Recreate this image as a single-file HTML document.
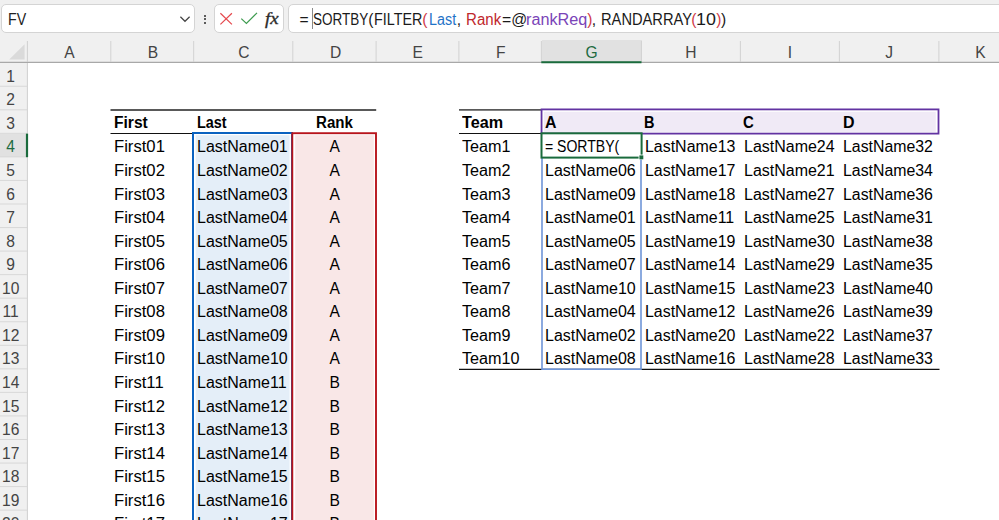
<!DOCTYPE html>
<html><head><meta charset="utf-8"><title>Excel</title>
<style>
*{box-sizing:border-box;margin:0;padding:0}
html,body{width:999px;height:520px;overflow:hidden;background:#fff}
body{position:relative;font-family:"Liberation Sans",sans-serif;color:#000}
.abs{position:absolute}
#top{left:0;top:0;width:999px;height:63px;background:#f0f0f0}
.box{position:absolute;top:4px;height:29px;background:#fff;border:1px solid #d4d4d4;border-radius:5px}
.ui{position:absolute;font-size:16.5px;line-height:20px;white-space:nowrap;color:#222}
.ftxt{position:absolute;top:9.5px;font-size:15.6px;line-height:20px;white-space:pre;color:#1a1a1a;transform-origin:0 50%}
.ch{position:absolute;top:42.6px;height:20px;font-size:15.6px;line-height:20px;text-align:center;color:#444}
.rh{position:absolute;left:0;width:27px;font-size:15.6px;color:#444}
.rh span{position:absolute;left:-2.8px;width:27px;bottom:-0.3px;line-height:20px;text-align:center}
.c{position:absolute;font-size:15.6px;line-height:20px;white-space:pre;height:23.55px}
.c span{position:absolute;left:0;bottom:-0.3px;transform-origin:0 50%}
.c.ctr span{left:0;right:0;text-align:center;transform-origin:50% 50%}
.b span{font-weight:bold;font-size:15.8px;bottom:0.8px}
#ov{position:absolute;left:0;top:0}
</style></head>
<body>
<div id="top" class="abs"></div>
<div class="box" style="left:1px;width:194px"></div>
<div class="ui" style="left:8.0px;top:9.3px;transform:scaleX(0.86);transform-origin:0 50%">FV</div>
<svg class="abs" style="left:179px;top:15px" width="12" height="8" viewBox="0 0 12 8"><path d="M1.4 1.8 L6 6.3 L10.6 1.8" fill="none" stroke="#444" stroke-width="1.2"/></svg>
<div class="abs" style="left:203.7px;top:14.5px;width:2px;height:2px;background:#2a2a2a;border-radius:50%"></div>
<div class="abs" style="left:203.7px;top:18.3px;width:2px;height:2px;background:#2a2a2a;border-radius:50%"></div>
<div class="abs" style="left:203.7px;top:22.1px;width:2px;height:2px;background:#2a2a2a;border-radius:50%"></div>
<div class="box" style="left:214px;width:70px"></div>
<svg class="abs" style="left:219px;top:12px" width="14" height="14" viewBox="0 0 14 14"><path d="M1.4 1.2 L12.9 12.4 M12.9 1.2 L1.4 12.4" fill="none" stroke="#e5484d" stroke-width="1.2"/></svg>
<svg class="abs" style="left:240px;top:11px" width="18" height="14" viewBox="0 0 18 14"><path d="M1.3 7.6 L6.4 12.4 L17 1.8" fill="none" stroke="#3d9b4f" stroke-width="1.2"/></svg>
<div class="abs" style="left:264.5px;top:6.5px;font-family:'Liberation Serif',serif;font-style:italic;font-size:17.5px;line-height:22px;color:#2b2b2b;-webkit-text-stroke:0.35px #2b2b2b;letter-spacing:0px;transform:scaleX(1.08);transform-origin:0 50%">fx</div>
<div class="box" style="left:288px;width:720px"></div>
<div class="ftxt" style="left:299.61px;">=</div>
<div class="ftxt" style="left:312.52px;transform:scaleX(0.866);">SORTBY</div>
<div class="ftxt" style="left:368.37px;">(</div>
<div class="ftxt" style="left:374.14px;transform:scaleX(0.920);">FILTER</div>
<div class="ftxt" style="left:422.27px;color:#d03a48;">(</div>
<div class="ftxt" style="left:428.94px;color:#1f73c7;transform:scaleX(0.920);">Last</div>
<div class="ftxt" style="left:456.83px;">,</div>
<div class="ftxt" style="left:465.69px;color:#c0282d;transform:scaleX(0.966);">Rank</div>
<div class="ftxt" style="left:501.60px;transform:scaleX(1.010);">=@</div>
<div class="ftxt" style="left:525.96px;color:#7a44b8;transform:scaleX(1.040);">rankReq</div>
<div class="ftxt" style="left:587.27px;color:#d03a48;">)</div>
<div class="ftxt" style="left:591.83px;">,</div>
<div class="ftxt" style="left:600.72px;transform:scaleX(0.941);">RANDARRAY</div>
<div class="ftxt" style="left:691.27px;color:#d03a48;">(</div>
<div class="ftxt" style="left:696.30px;transform:scaleX(1.147);">10</div>
<div class="ftxt" style="left:716.37px;color:#d03a48;">)</div>
<div class="ftxt" style="left:721.12px;">)</div>
<div class="abs" style="left:312px;top:8px;width:1px;height:21px;background:#8a8a8a"></div>
<svg class="abs" style="left:8px;top:43px" width="18" height="18" viewBox="0 0 18 18"><path d="M16.6 1.3 L16.6 16.6 L1.2 16.6 Z" fill="#dadada"/></svg>
<div class="ch" style="left:28.3px;width:82.5px">A</div>
<div class="ch" style="left:111.7px;width:82.5px">B</div>
<div class="ch" style="left:194.4px;width:99px">C</div>
<div class="ch" style="left:293.8px;width:83.5px">D</div>
<div class="ch" style="left:375.9px;width:83.5px">E</div>
<div class="ch" style="left:459.4px;width:82.5px">F</div>
<div class="abs" style="left:541.5px;top:40px;width:100.0px;height:22px;background:#e1e1e1"></div>
<div class="ch" style="left:541.5px;width:100.0px;color:#1e6b3f">G</div>
<div class="ch" style="left:641.5px;width:99.0px">H</div>
<div class="ch" style="left:740.5px;width:99.0px">I</div>
<div class="ch" style="left:839.5px;width:99.5px">J</div>
<div class="ch" style="left:939px;width:83px">K</div>
<div class="abs" style="left:0;top:63px;width:27px;height:457px;background:#f0f0f0"></div>
<div class="rh" style="top:63.0px;height:23.55px"><span>1</span></div>
<div class="rh" style="top:86.55px;height:23.55px"><span>2</span></div>
<div class="rh" style="top:110.1px;height:23.55px"><span>3</span></div>
<div class="rh" style="top:133.65px;height:23.55px;background:#e1e1e1;color:#1e6b3f"><span>4</span></div>
<div class="rh" style="top:157.2px;height:23.55px"><span>5</span></div>
<div class="rh" style="top:180.75px;height:23.55px"><span>6</span></div>
<div class="rh" style="top:204.3px;height:23.55px"><span>7</span></div>
<div class="rh" style="top:227.85px;height:23.55px"><span>8</span></div>
<div class="rh" style="top:251.4px;height:23.55px"><span>9</span></div>
<div class="rh" style="top:274.95000000000005px;height:23.55px"><span>10</span></div>
<div class="rh" style="top:298.5px;height:23.55px"><span>11</span></div>
<div class="rh" style="top:322.05px;height:23.55px"><span>12</span></div>
<div class="rh" style="top:345.6px;height:23.55px"><span>13</span></div>
<div class="rh" style="top:369.15000000000003px;height:23.55px"><span>14</span></div>
<div class="rh" style="top:392.7px;height:23.55px"><span>15</span></div>
<div class="rh" style="top:416.25px;height:23.55px"><span>16</span></div>
<div class="rh" style="top:439.8px;height:23.55px"><span>17</span></div>
<div class="rh" style="top:463.35px;height:23.55px"><span>18</span></div>
<div class="rh" style="top:486.90000000000003px;height:23.55px"><span>19</span></div>
<div class="rh" style="top:510.45px;height:23.55px"><span>20</span></div>
<svg id="ov" width="999" height="520" viewBox="0 0 999 520"><line x1="0" y1="62.35" x2="999" y2="62.35" stroke="#a8a8a8" stroke-width="1.2"/><line x1="27.4" y1="41" x2="27.4" y2="62" stroke="#cfcfcf" stroke-width="1"/><line x1="110.80000000000001" y1="41" x2="110.80000000000001" y2="62" stroke="#d2d2d2" stroke-width="1"/><line x1="193.70000000000002" y1="41" x2="193.70000000000002" y2="62" stroke="#d2d2d2" stroke-width="1"/><line x1="292.79999999999995" y1="41" x2="292.79999999999995" y2="62" stroke="#d2d2d2" stroke-width="1"/><line x1="376.09999999999997" y1="41" x2="376.09999999999997" y2="62" stroke="#d2d2d2" stroke-width="1"/><line x1="458.9" y1="41" x2="458.9" y2="62" stroke="#d2d2d2" stroke-width="1"/><line x1="541.4" y1="41" x2="541.4" y2="62" stroke="#d2d2d2" stroke-width="1"/><line x1="641.4" y1="41" x2="641.4" y2="62" stroke="#d2d2d2" stroke-width="1"/><line x1="740.4" y1="41" x2="740.4" y2="62" stroke="#d2d2d2" stroke-width="1"/><line x1="839.4" y1="41" x2="839.4" y2="62" stroke="#d2d2d2" stroke-width="1"/><line x1="938.9" y1="41" x2="938.9" y2="62" stroke="#d2d2d2" stroke-width="1"/><line x1="541.3" y1="62.15" x2="641.5" y2="62.15" stroke="#1a6b3c" stroke-width="2.0"/><line x1="27.4" y1="63" x2="27.4" y2="520" stroke="#cfcfcf" stroke-width="1"/><line x1="0" y1="86.25" x2="27" y2="86.25" stroke="#d8d8d8" stroke-width="1"/><line x1="0" y1="109.8" x2="27" y2="109.8" stroke="#d8d8d8" stroke-width="1"/><line x1="0" y1="133.35" x2="27" y2="133.35" stroke="#d8d8d8" stroke-width="1"/><line x1="0" y1="156.89999999999998" x2="27" y2="156.89999999999998" stroke="#d8d8d8" stroke-width="1"/><line x1="0" y1="180.45" x2="27" y2="180.45" stroke="#d8d8d8" stroke-width="1"/><line x1="0" y1="204.0" x2="27" y2="204.0" stroke="#d8d8d8" stroke-width="1"/><line x1="0" y1="227.54999999999998" x2="27" y2="227.54999999999998" stroke="#d8d8d8" stroke-width="1"/><line x1="0" y1="251.1" x2="27" y2="251.1" stroke="#d8d8d8" stroke-width="1"/><line x1="0" y1="274.65000000000003" x2="27" y2="274.65000000000003" stroke="#d8d8d8" stroke-width="1"/><line x1="0" y1="298.2" x2="27" y2="298.2" stroke="#d8d8d8" stroke-width="1"/><line x1="0" y1="321.75" x2="27" y2="321.75" stroke="#d8d8d8" stroke-width="1"/><line x1="0" y1="345.3" x2="27" y2="345.3" stroke="#d8d8d8" stroke-width="1"/><line x1="0" y1="368.85" x2="27" y2="368.85" stroke="#d8d8d8" stroke-width="1"/><line x1="0" y1="392.4" x2="27" y2="392.4" stroke="#d8d8d8" stroke-width="1"/><line x1="0" y1="415.95" x2="27" y2="415.95" stroke="#d8d8d8" stroke-width="1"/><line x1="0" y1="439.5" x2="27" y2="439.5" stroke="#d8d8d8" stroke-width="1"/><line x1="0" y1="463.05" x2="27" y2="463.05" stroke="#d8d8d8" stroke-width="1"/><line x1="0" y1="486.6" x2="27" y2="486.6" stroke="#d8d8d8" stroke-width="1"/><line x1="0" y1="510.15" x2="27" y2="510.15" stroke="#d8d8d8" stroke-width="1"/><line x1="27" y1="133.65" x2="27" y2="157.2" stroke="#1a6b3c" stroke-width="2.2"/><rect x="195.6" y="135.2" width="94.00000000000003" height="400" fill="#e4eef8"/><rect x="295.2" y="135.2" width="78.60000000000002" height="400" fill="#f9e7e7"/><rect x="543.8" y="111.8" width="392.0" height="20.10000000000001" fill="#f0eaf6"/><line x1="110.5" y1="110" x2="376.2" y2="110" stroke="#595959" stroke-width="1.9"/><line x1="110.5" y1="133.5" x2="192" y2="133.5" stroke="#111" stroke-width="1.2"/><line x1="459" y1="109.9" x2="541" y2="109.9" stroke="#595959" stroke-width="1.9"/><line x1="459" y1="133.5" x2="541" y2="133.5" stroke="#111" stroke-width="1.2"/><line x1="459" y1="369.3" x2="939.5" y2="369.3" stroke="#111" stroke-width="1.3"/><rect x="193" y="133" width="99" height="400" fill="none" stroke="#0a62c0" stroke-width="2"/><rect x="292.3" y="133.2" width="83.69999999999999" height="400" fill="none" stroke="#b8141c" stroke-width="1.9"/><rect x="541.55" y="109.4" width="396.95000000000005" height="24.19999999999999" fill="none" stroke="#6233a2" stroke-width="1.8"/><rect x="542" y="150" width="99" height="219.2" fill="none" stroke="#6f95d8" stroke-width="1.6"/><rect x="541.5" y="133.3" width="100.10000000000002" height="24.299999999999983" fill="#fff" stroke="#1a6b3c" stroke-width="2"/><rect x="638.6" y="154.6" width="5" height="5" fill="#fff"/><rect x="639.4" y="155.4" width="3.9" height="3.9" fill="#1a6b3c"/></svg>
<div class="c b" style="left:113.91px;top:110.10px"><span style="transform:scaleX(0.987)">First</span></div>
<div class="c b" style="left:196.89px;top:110.10px"><span style="transform:scaleX(0.913)">Last</span></div>
<div class="c b" style="left:315.95px;top:110.10px"><span style="transform:scaleX(0.955)">Rank</span></div>
<div class="c" style="left:113.87px;top:133.65px"><span style="transform:scaleX(1.068)">First01</span></div>
<div class="c" style="left:196.72px;top:133.65px"><span style="transform:scaleX(1.026)">LastName01</span></div>
<div class="c ctr" style="left:314.7px;top:133.65px;width:40px"><span>A</span></div>
<div class="c" style="left:113.87px;top:157.20px"><span style="transform:scaleX(1.068)">First02</span></div>
<div class="c" style="left:196.72px;top:157.20px"><span style="transform:scaleX(1.026)">LastName02</span></div>
<div class="c ctr" style="left:314.7px;top:157.20px;width:40px"><span>A</span></div>
<div class="c" style="left:113.87px;top:180.75px"><span style="transform:scaleX(1.068)">First03</span></div>
<div class="c" style="left:196.72px;top:180.75px"><span style="transform:scaleX(1.026)">LastName03</span></div>
<div class="c ctr" style="left:314.7px;top:180.75px;width:40px"><span>A</span></div>
<div class="c" style="left:113.87px;top:204.30px"><span style="transform:scaleX(1.068)">First04</span></div>
<div class="c" style="left:196.72px;top:204.30px"><span style="transform:scaleX(1.026)">LastName04</span></div>
<div class="c ctr" style="left:314.7px;top:204.30px;width:40px"><span>A</span></div>
<div class="c" style="left:113.87px;top:227.85px"><span style="transform:scaleX(1.068)">First05</span></div>
<div class="c" style="left:196.72px;top:227.85px"><span style="transform:scaleX(1.026)">LastName05</span></div>
<div class="c ctr" style="left:314.7px;top:227.85px;width:40px"><span>A</span></div>
<div class="c" style="left:113.87px;top:251.40px"><span style="transform:scaleX(1.068)">First06</span></div>
<div class="c" style="left:196.72px;top:251.40px"><span style="transform:scaleX(1.026)">LastName06</span></div>
<div class="c ctr" style="left:314.7px;top:251.40px;width:40px"><span>A</span></div>
<div class="c" style="left:113.87px;top:274.95px"><span style="transform:scaleX(1.068)">First07</span></div>
<div class="c" style="left:196.72px;top:274.95px"><span style="transform:scaleX(1.026)">LastName07</span></div>
<div class="c ctr" style="left:314.7px;top:274.95px;width:40px"><span>A</span></div>
<div class="c" style="left:113.87px;top:298.50px"><span style="transform:scaleX(1.068)">First08</span></div>
<div class="c" style="left:196.72px;top:298.50px"><span style="transform:scaleX(1.026)">LastName08</span></div>
<div class="c ctr" style="left:314.7px;top:298.50px;width:40px"><span>A</span></div>
<div class="c" style="left:113.87px;top:322.05px"><span style="transform:scaleX(1.068)">First09</span></div>
<div class="c" style="left:196.72px;top:322.05px"><span style="transform:scaleX(1.026)">LastName09</span></div>
<div class="c ctr" style="left:314.7px;top:322.05px;width:40px"><span>A</span></div>
<div class="c" style="left:113.87px;top:345.60px"><span style="transform:scaleX(1.068)">First10</span></div>
<div class="c" style="left:196.72px;top:345.60px"><span style="transform:scaleX(1.026)">LastName10</span></div>
<div class="c ctr" style="left:314.7px;top:345.60px;width:40px"><span>A</span></div>
<div class="c" style="left:113.87px;top:369.15px"><span style="transform:scaleX(1.068)">First11</span></div>
<div class="c" style="left:196.72px;top:369.15px"><span style="transform:scaleX(1.026)">LastName11</span></div>
<div class="c ctr" style="left:314.7px;top:369.15px;width:40px"><span>B</span></div>
<div class="c" style="left:113.87px;top:392.70px"><span style="transform:scaleX(1.068)">First12</span></div>
<div class="c" style="left:196.72px;top:392.70px"><span style="transform:scaleX(1.026)">LastName12</span></div>
<div class="c ctr" style="left:314.7px;top:392.70px;width:40px"><span>B</span></div>
<div class="c" style="left:113.87px;top:416.25px"><span style="transform:scaleX(1.068)">First13</span></div>
<div class="c" style="left:196.72px;top:416.25px"><span style="transform:scaleX(1.026)">LastName13</span></div>
<div class="c ctr" style="left:314.7px;top:416.25px;width:40px"><span>B</span></div>
<div class="c" style="left:113.87px;top:439.80px"><span style="transform:scaleX(1.068)">First14</span></div>
<div class="c" style="left:196.72px;top:439.80px"><span style="transform:scaleX(1.026)">LastName14</span></div>
<div class="c ctr" style="left:314.7px;top:439.80px;width:40px"><span>B</span></div>
<div class="c" style="left:113.87px;top:463.35px"><span style="transform:scaleX(1.068)">First15</span></div>
<div class="c" style="left:196.72px;top:463.35px"><span style="transform:scaleX(1.026)">LastName15</span></div>
<div class="c ctr" style="left:314.7px;top:463.35px;width:40px"><span>B</span></div>
<div class="c" style="left:113.87px;top:486.90px"><span style="transform:scaleX(1.068)">First16</span></div>
<div class="c" style="left:196.72px;top:486.90px"><span style="transform:scaleX(1.026)">LastName16</span></div>
<div class="c ctr" style="left:314.7px;top:486.90px;width:40px"><span>B</span></div>
<div class="c" style="left:113.87px;top:510.45px"><span style="transform:scaleX(1.068)">First17</span></div>
<div class="c" style="left:196.72px;top:510.45px"><span style="transform:scaleX(1.026)">LastName17</span></div>
<div class="c ctr" style="left:314.7px;top:510.45px;width:40px"><span>B</span></div>
<div class="c b" style="left:462.18px;top:110.10px"><span style="transform:scaleX(1.024)">Team</span></div>
<div class="c b" style="left:544.92px;top:110.10px"><span style="transform:scaleX(1.007)">A</span></div>
<div class="c b" style="left:644.28px;top:110.10px"><span style="transform:scaleX(0.919)">B</span></div>
<div class="c b" style="left:743.24px;top:110.10px"><span style="transform:scaleX(0.947)">C</span></div>
<div class="c b" style="left:842.69px;top:110.10px"><span style="transform:scaleX(1.011)">D</span></div>
<div class="c" style="left:461.99px;top:133.65px"><span style="transform:scaleX(1.037)">Team1</span></div>
<div class="c" style="left:545.38px;top:133.65px"><span style="transform:scaleX(0.900)">= SORTBY(</span></div>
<div class="c" style="left:644.73px;top:133.65px"><span style="transform:scaleX(1.022)">LastName13</span></div>
<div class="c" style="left:743.62px;top:133.65px"><span style="transform:scaleX(1.025)">LastName24</span></div>
<div class="c" style="left:843.33px;top:133.65px"><span style="transform:scaleX(1.017)">LastName32</span></div>
<div class="c" style="left:461.99px;top:157.20px"><span style="transform:scaleX(1.037)">Team2</span></div>
<div class="c" style="left:545.12px;top:157.20px"><span style="transform:scaleX(1.026)">LastName06</span></div>
<div class="c" style="left:644.73px;top:157.20px"><span style="transform:scaleX(1.022)">LastName17</span></div>
<div class="c" style="left:743.62px;top:157.20px"><span style="transform:scaleX(1.025)">LastName21</span></div>
<div class="c" style="left:843.33px;top:157.20px"><span style="transform:scaleX(1.017)">LastName34</span></div>
<div class="c" style="left:461.99px;top:180.75px"><span style="transform:scaleX(1.037)">Team3</span></div>
<div class="c" style="left:545.12px;top:180.75px"><span style="transform:scaleX(1.026)">LastName09</span></div>
<div class="c" style="left:644.73px;top:180.75px"><span style="transform:scaleX(1.022)">LastName18</span></div>
<div class="c" style="left:743.62px;top:180.75px"><span style="transform:scaleX(1.025)">LastName27</span></div>
<div class="c" style="left:843.33px;top:180.75px"><span style="transform:scaleX(1.017)">LastName36</span></div>
<div class="c" style="left:461.99px;top:204.30px"><span style="transform:scaleX(1.037)">Team4</span></div>
<div class="c" style="left:545.12px;top:204.30px"><span style="transform:scaleX(1.026)">LastName01</span></div>
<div class="c" style="left:644.73px;top:204.30px"><span style="transform:scaleX(1.022)">LastName11</span></div>
<div class="c" style="left:743.62px;top:204.30px"><span style="transform:scaleX(1.025)">LastName25</span></div>
<div class="c" style="left:843.33px;top:204.30px"><span style="transform:scaleX(1.017)">LastName31</span></div>
<div class="c" style="left:461.99px;top:227.85px"><span style="transform:scaleX(1.037)">Team5</span></div>
<div class="c" style="left:545.12px;top:227.85px"><span style="transform:scaleX(1.026)">LastName05</span></div>
<div class="c" style="left:644.73px;top:227.85px"><span style="transform:scaleX(1.022)">LastName19</span></div>
<div class="c" style="left:743.62px;top:227.85px"><span style="transform:scaleX(1.025)">LastName30</span></div>
<div class="c" style="left:843.33px;top:227.85px"><span style="transform:scaleX(1.017)">LastName38</span></div>
<div class="c" style="left:461.99px;top:251.40px"><span style="transform:scaleX(1.037)">Team6</span></div>
<div class="c" style="left:545.12px;top:251.40px"><span style="transform:scaleX(1.026)">LastName07</span></div>
<div class="c" style="left:644.73px;top:251.40px"><span style="transform:scaleX(1.022)">LastName14</span></div>
<div class="c" style="left:743.62px;top:251.40px"><span style="transform:scaleX(1.025)">LastName29</span></div>
<div class="c" style="left:843.33px;top:251.40px"><span style="transform:scaleX(1.017)">LastName35</span></div>
<div class="c" style="left:461.99px;top:274.95px"><span style="transform:scaleX(1.037)">Team7</span></div>
<div class="c" style="left:545.12px;top:274.95px"><span style="transform:scaleX(1.026)">LastName10</span></div>
<div class="c" style="left:644.73px;top:274.95px"><span style="transform:scaleX(1.022)">LastName15</span></div>
<div class="c" style="left:743.62px;top:274.95px"><span style="transform:scaleX(1.025)">LastName23</span></div>
<div class="c" style="left:843.33px;top:274.95px"><span style="transform:scaleX(1.017)">LastName40</span></div>
<div class="c" style="left:461.99px;top:298.50px"><span style="transform:scaleX(1.037)">Team8</span></div>
<div class="c" style="left:545.12px;top:298.50px"><span style="transform:scaleX(1.026)">LastName04</span></div>
<div class="c" style="left:644.73px;top:298.50px"><span style="transform:scaleX(1.022)">LastName12</span></div>
<div class="c" style="left:743.62px;top:298.50px"><span style="transform:scaleX(1.025)">LastName26</span></div>
<div class="c" style="left:843.33px;top:298.50px"><span style="transform:scaleX(1.017)">LastName39</span></div>
<div class="c" style="left:461.99px;top:322.05px"><span style="transform:scaleX(1.037)">Team9</span></div>
<div class="c" style="left:545.12px;top:322.05px"><span style="transform:scaleX(1.026)">LastName02</span></div>
<div class="c" style="left:644.73px;top:322.05px"><span style="transform:scaleX(1.022)">LastName20</span></div>
<div class="c" style="left:743.62px;top:322.05px"><span style="transform:scaleX(1.025)">LastName22</span></div>
<div class="c" style="left:843.33px;top:322.05px"><span style="transform:scaleX(1.017)">LastName37</span></div>
<div class="c" style="left:461.99px;top:345.60px"><span style="transform:scaleX(1.037)">Team10</span></div>
<div class="c" style="left:545.12px;top:345.60px"><span style="transform:scaleX(1.026)">LastName08</span></div>
<div class="c" style="left:644.73px;top:345.60px"><span style="transform:scaleX(1.022)">LastName16</span></div>
<div class="c" style="left:743.62px;top:345.60px"><span style="transform:scaleX(1.025)">LastName28</span></div>
<div class="c" style="left:843.33px;top:345.60px"><span style="transform:scaleX(1.017)">LastName33</span></div>
</body></html>
